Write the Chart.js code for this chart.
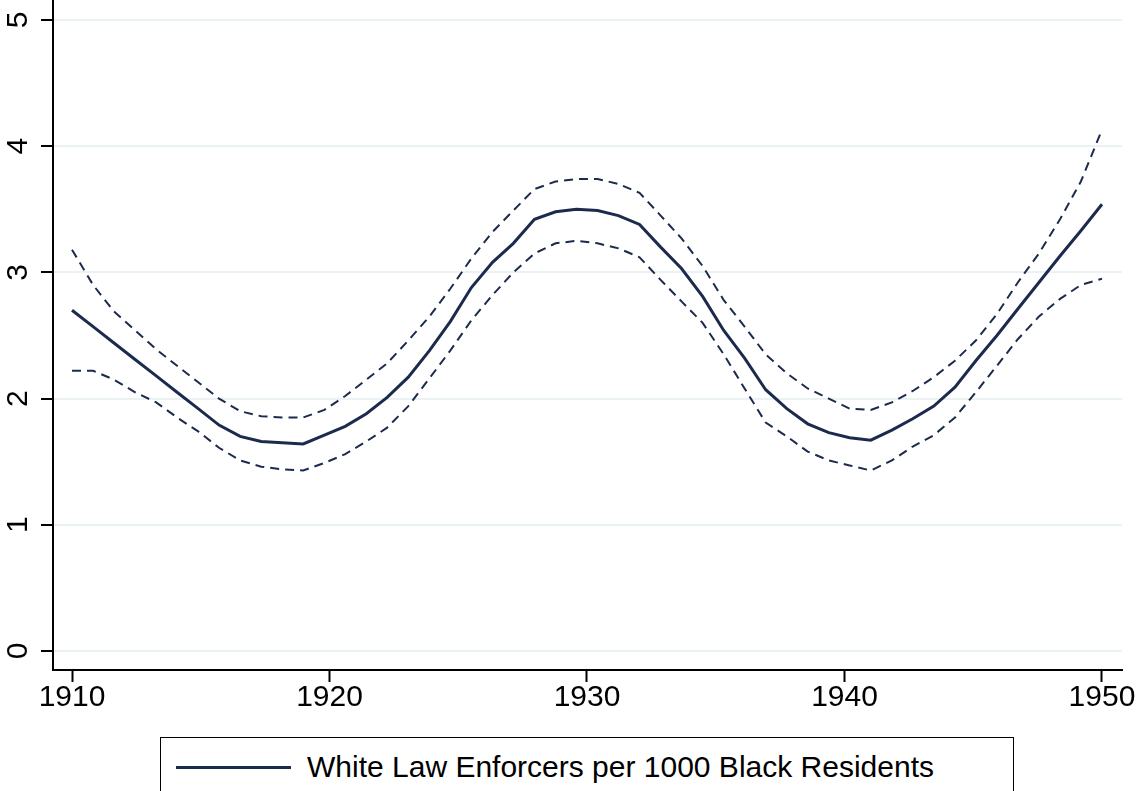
<!DOCTYPE html>
<html>
<head>
<meta charset="utf-8">
<script src="https://cdn.jsdelivr.net/npm/chart.js@4/dist/chart.umd.min.js"></script>
<style>
  html, body { margin: 0; padding: 0; background: #fff; overflow: hidden; }
  #wrap { position: relative; width: 1136px; height: 791px; }
  #legend {
    position: absolute; left: 160px; top: 737px; width: 854px; height: 70px;
    border: 1.5px solid #000; box-sizing: border-box; background: #fff;
    font-family: "Liberation Sans", Arial, sans-serif; font-size: 30px; color: #000;
  }
  #legend .sw { position: absolute; left: 15px; top: 28px; width: 115px; height: 3px; background: #1c2b4d; }
  #legend .tx { position: absolute; left: 146px; top: 11px; white-space: nowrap; line-height: 36px; }
</style>
</head>
<body>
<div id="wrap">
  <canvas id="c" width="1136" height="791"></canvas>
  <div id="legend"><div class="sw"></div><div class="tx">White Law Enforcers per 1000 Black Residents</div></div>
</div>
<script>
// ---- data ----
const years = [1910.00,1910.82,1911.63,1912.45,1913.27,1914.08,1914.90,1915.71,1916.53,1917.35,
  1918.16,1918.98,1919.80,1920.61,1921.43,1922.24,1923.06,1923.88,1924.69,1925.51,
  1926.33,1927.14,1927.96,1928.78,1929.59,1930.41,1931.22,1932.04,1932.86,1933.67,
  1934.49,1935.31,1936.12,1936.94,1937.76,1938.57,1939.39,1940.20,1941.02,1941.84,
  1942.65,1943.47,1944.29,1945.10,1945.92,1946.73,1947.55,1948.37,1949.18,1950.00];
const fitted = [2.70,2.57,2.44,2.31,2.18,2.05,1.92,1.79,1.70,1.66,
  1.65,1.64,1.71,1.78,1.88,2.01,2.17,2.38,2.61,2.88,
  3.08,3.23,3.42,3.48,3.50,3.49,3.45,3.38,3.20,3.03,
  2.81,2.54,2.32,2.07,1.92,1.80,1.73,1.69,1.67,1.75,
  1.84,1.94,2.09,2.30,2.50,2.71,2.92,3.13,3.33,3.54];
const upperCI = [3.18,2.90,2.69,2.54,2.39,2.26,2.13,2.00,1.90,1.86,
  1.85,1.85,1.91,2.02,2.15,2.28,2.46,2.65,2.87,3.11,
  3.32,3.49,3.66,3.72,3.74,3.74,3.70,3.63,3.45,3.27,
  3.05,2.78,2.57,2.35,2.20,2.08,2.00,1.92,1.91,1.97,
  2.06,2.17,2.30,2.46,2.67,2.92,3.15,3.42,3.72,4.13];
const lowerCI = [2.22,2.22,2.15,2.05,1.97,1.85,1.74,1.61,1.51,1.46,
  1.44,1.43,1.49,1.56,1.66,1.77,1.94,2.16,2.38,2.62,
  2.82,3.00,3.15,3.23,3.25,3.23,3.19,3.12,2.94,2.77,
  2.60,2.35,2.08,1.81,1.70,1.58,1.51,1.47,1.43,1.51,
  1.62,1.71,1.85,2.05,2.26,2.47,2.65,2.79,2.90,2.95];
const xTicks = [1910, 1920, 1930, 1940, 1950];
const yTicks = [0, 1, 2, 3, 4, 5];
const seriesLabel = "White Law Enforcers per 1000 Black Residents";

const navy = '#1c2b4d';
const pts = arr => years.map((x, i) => ({ x: x, y: arr[i] }));
const font = { family: '"Liberation Sans", Arial, sans-serif', size: 30, lineHeight: 1 };

new Chart(document.getElementById('c'), {
  type: 'line',
  data: {
    datasets: [
      { label: 'upper', data: pts(upperCI), borderColor: navy, borderWidth: 2, borderDash: [9, 6], pointRadius: 0, tension: 0, fill: false },
      { label: 'lower', data: pts(lowerCI), borderColor: navy, borderWidth: 2, borderDash: [9, 6], pointRadius: 0, tension: 0, fill: false },
      { label: seriesLabel, data: pts(fitted), borderColor: navy, borderWidth: 3, pointRadius: 0, tension: 0, fill: false }
    ]
  },
  options: {
    responsive: false,
    animation: false,
    devicePixelRatio: 1,
    layout: { padding: { left: 0, right: 14, top: 0, bottom: 0 } },
    plugins: { legend: { display: false }, tooltip: { enabled: false } },
    scales: {
      x: {
        type: 'linear',
        min: 1909.262, max: 1950.777,
        afterBuildTicks: s => { s.ticks = xTicks.map(v => ({ value: v })); },
        afterFit: s => { s.height = 121; s.paddingLeft = 0; s.paddingRight = 0; },
        border: { display: true, color: '#000', width: 2 },
        grid: { drawOnChartArea: false, tickColor: '#000', tickLength: 12, tickWidth: 2 },
        ticks: { color: '#000', font: font, padding: 1, maxRotation: 0, minRotation: 0, callback: v => String(v) }
      },
      y: {
        type: 'linear',
        min: -0.1506, max: 5.158,
        afterBuildTicks: s => { s.ticks = yTicks.map(v => ({ value: v })); },
        afterFit: s => { s.width = 53; s.paddingTop = 0; s.paddingBottom = 0; },
        border: { display: true, color: '#000', width: 2 },
        grid: { color: '#eaf2f3', lineWidth: 2, tickColor: '#000', tickLength: 12, tickWidth: 2 },
        ticks: { color: '#000', font: font, padding: 14, minRotation: 90, maxRotation: 90, crossAlign: 'center', callback: v => String(v) }
      }
    }
  }
});
</script>
</body>
</html>
